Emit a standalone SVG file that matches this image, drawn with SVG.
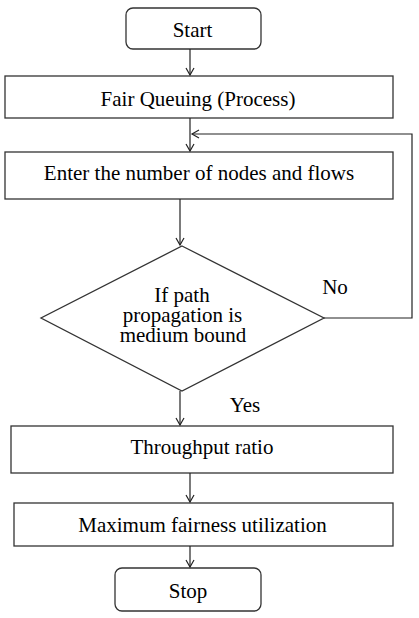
<svg xmlns="http://www.w3.org/2000/svg" width="419" height="618" viewBox="0 0 419 618">
<style>
.box{fill:#fff;stroke:#333;stroke-width:1.3}
.t{font-family:"Liberation Serif","Times New Roman",serif;font-size:21px;fill:#000;text-anchor:middle}
.c{fill:none;stroke:#222;stroke-width:1.2}
</style>
<defs>
<marker id="ah" markerWidth="10" markerHeight="10" refX="8" refY="5" orient="auto" markerUnits="userSpaceOnUse">
<polyline points="1,1 8,5 1,9" fill="none" stroke="#222" stroke-width="1.2"/>
</marker>
</defs>
<rect width="419" height="618" fill="#fff"/>
<g id="start"><rect class="box" x="126" y="8" width="135" height="41" rx="7"/><text class="t" x="192.5" y="37">Start</text></g>
<g id="fair"><rect class="box" x="5" y="76" width="388" height="42"/><text class="t" x="198" y="106">Fair Queuing (Process)</text></g>
<g id="enter"><rect class="box" x="5" y="152" width="388" height="47"/><text class="t" x="199" y="180">Enter the number of nodes and flows</text></g>
<g id="decision"><polygon class="box" points="182,246 324,318 182,391 41,318"/>
<text class="t" x="182" y="302">If path</text><text class="t" x="182.5" y="322">propagation is</text><text class="t" x="183" y="342">medium bound</text></g>
<g id="through"><rect class="box" x="11" y="426" width="382" height="47"/><text class="t" x="202" y="454">Throughput ratio</text></g>
<g id="max"><rect class="box" x="14" y="503" width="379" height="43"/><text class="t" x="202.5" y="532">Maximum fairness utilization</text></g>
<g id="stop"><rect class="box" x="115" y="568" width="146" height="43" rx="7"/><text class="t" x="188" y="598">Stop</text></g>
<g id="connectors">
<line class="c" x1="190" y1="49" x2="190" y2="75" marker-end="url(#ah)"/>
<line class="c" x1="190" y1="118" x2="190" y2="151" marker-end="url(#ah)"/>
<polyline class="c" points="324,318 412,318 412,134 192,134" marker-end="url(#ah)"/>
<line class="c" x1="180" y1="199" x2="180" y2="245" marker-end="url(#ah)"/>
<line class="c" x1="180" y1="391" x2="180" y2="425" marker-end="url(#ah)"/>
<line class="c" x1="190" y1="473" x2="190" y2="502" marker-end="url(#ah)"/>
<line class="c" x1="190" y1="546" x2="190" y2="567" marker-end="url(#ah)"/>
<text class="t" x="335" y="294">No</text>
<text class="t" x="245" y="412">Yes</text>
</g>
</svg>
